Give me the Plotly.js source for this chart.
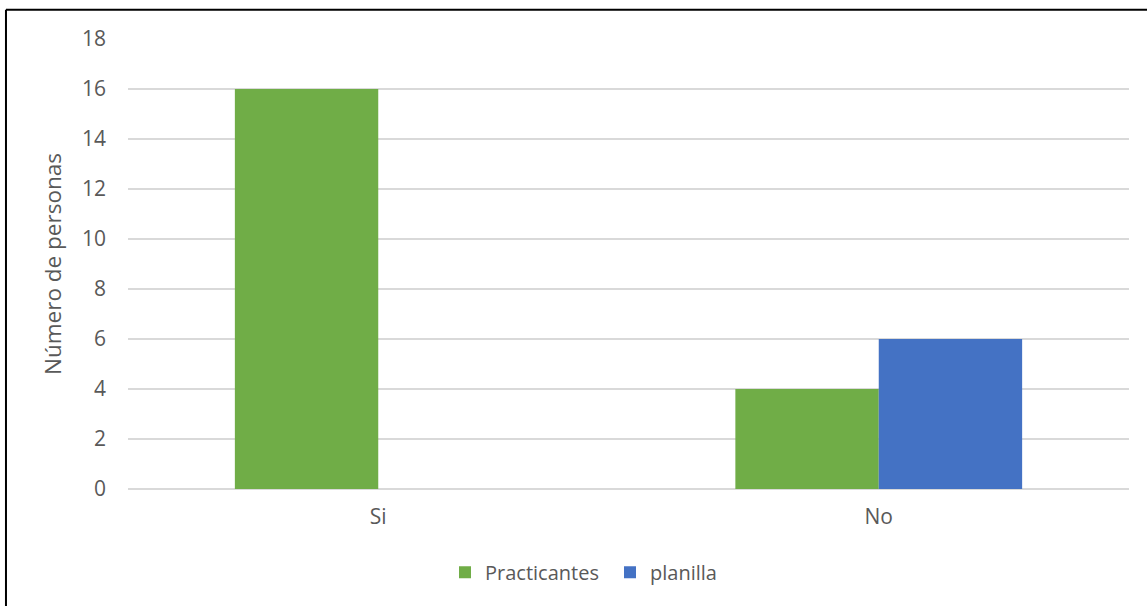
<!DOCTYPE html>
<html>
<head>
<meta charset="utf-8">
<script src="https://cdn.plot.ly/plotly-3.0.1.min.js"></script>
<style>
  html, body { margin: 0; padding: 0; background: #fff; }
  #chart { width: 1147px; height: 606px; }
</style>
</head>
<body>
<div id="chart"></div>
<script>
// Categories and series values
const categories = ["Si", "No"];
const practicantes = [16, 4];
const planilla = [0, 6];
const yTicks = [0, 2, 4, 6, 8, 10, 12, 14, 16, 18];

const font = "Open Sans";
const textColor = "#595959";

const traces = [
  {
    type: "bar",
    name: "Practicantes",
    x: categories,
    y: practicantes,
    marker: { color: "#70AD47" }
  },
  {
    type: "bar",
    name: "planilla",
    x: categories,
    y: planilla,
    marker: { color: "#4472C4" }
  }
];

const layout = {
  width: 1147,
  height: 606,
  margin: { l: 128, r: 18, t: 38.7, b: 117.3 },
  paper_bgcolor: "#ffffff",
  plot_bgcolor: "#ffffff",
  barmode: "group",
  bargap: 0.427,
  bargroupgap: 0,
  font: { family: font, color: textColor, size: 20 },
  showlegend: true,
  legend: {
    orientation: "h",
    x: (445 - 128) / 1001,
    xanchor: "left",
    y: -0.185,
    yanchor: "middle",
    font: { family: font, size: 20, color: textColor },
    entrywidth: 120,
    traceorder: "normal"
  },
  xaxis: {
    type: "category",
    showgrid: false,
    zeroline: false,
    showline: false,
    ticks: "",
    ticklabelstandoff: 13,
    tickfont: { family: font, size: 21, color: textColor },
    fixedrange: true
  },
  yaxis: {
    range: [0, 18],
    tickvals: yTicks,
    ticktext: yTicks.map(String),
    showgrid: true,
    gridcolor: "#d9d9d9",
    gridwidth: 1.4,
    zeroline: true,
    zerolinecolor: "#d9d9d9",
    zerolinewidth: 1.4,
    showline: false,
    ticks: "",
    ticklabelstandoff: 21,
    tickfont: { family: font, size: 21, color: textColor },
    title: {
      text: "Número de personas",
      font: { family: font, size: 22.5, color: textColor },
      standoff: 14
    },
    fixedrange: true
  },
  shapes: [
    // frame around the chart area (top and left edges visible)
    {
      type: "line", xref: "paper", yref: "paper",
      x0: -0.1219, x1: 1.1, y0: 1.0648, y1: 1.0648,
      line: { color: "#000000", width: 2 }
    },
    {
      type: "line", xref: "paper", yref: "paper",
      x0: -0.1219, x1: -0.1219, y0: 1.0648, y1: -0.4,
      line: { color: "#000000", width: 2 }
    }
  ]
};

Plotly.newPlot("chart", traces, layout, { displayModeBar: false, staticPlot: true });
</script>
</body>
</html>
